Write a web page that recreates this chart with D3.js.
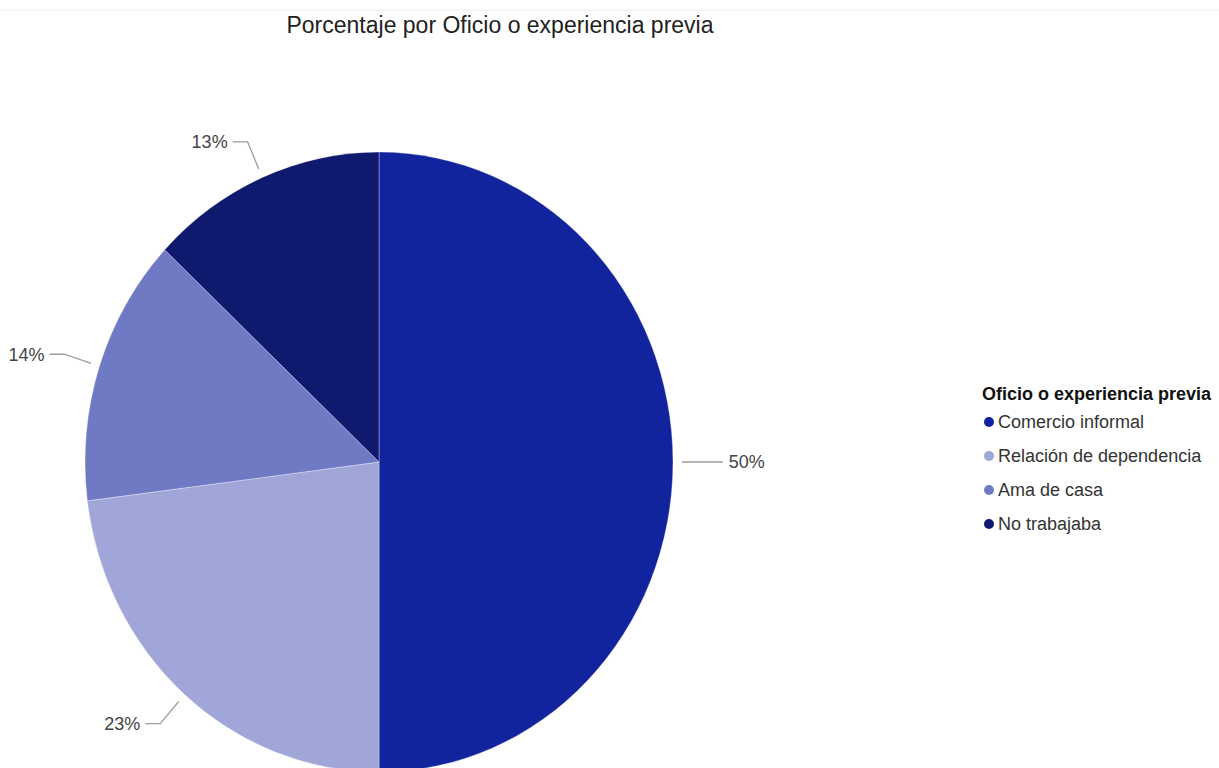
<!DOCTYPE html>
<html><head><meta charset="utf-8">
<script src="https://cdn.jsdelivr.net/npm/d3@7"></script>
<style>body{margin:0;background:#fff;} text{font-family:"Liberation Sans",Arial,sans-serif;}</style>
</head><body><svg id="c" width="1219" height="768"></svg>
<script>
const categories = ["Comercio informal","Relación de dependencia","Ama de casa","No trabajaba"];
const values = [50, 23, 14, 13];
const colors = ["#12239e","#a0a6d8","#7079c4","#0f1a6e"];
const chartTitle = "Porcentaje por Oficio o experiencia previa";
const legendTitle = "Oficio o experiencia previa";

const svg = d3.select("#c");
svg.append("line").attr("x1",0).attr("x2",1219).attr("y1",10).attr("y2",10).attr("stroke","#eeeeee").attr("stroke-width",1);
svg.append("text").attr("x",500).attr("y",33).attr("text-anchor","middle").attr("font-size",23).attr("fill","#222").text(chartTitle);

const cx=379, cy=462, rx=294, ry=310;
const pie = d3.pie().sort(null).value(d=>d);
const arcs = pie(values);
const arc = d3.arc().innerRadius(0).outerRadius(rx);
const g = svg.append("g").attr("transform",`translate(${cx},${cy}) scale(1,${ry/rx})`);
g.selectAll("path").data(arcs).join("path").attr("d",arc).attr("fill",(d,i)=>colors[i])
  .attr("stroke","#ffffff").attr("stroke-opacity",0.35).attr("stroke-width",1).attr("vector-effect","non-scaling-stroke");

const total = d3.sum(values);
const pt = (a,k)=>[cx+Math.sin(a)*rx*k, cy-Math.cos(a)*ry*k];
arcs.forEach((d,i)=>{
  const a=(d.startAngle+d.endAngle)/2;
  const A=pt(a,1.03), B=pt(a,1.125);
  const right = Math.sin(a)>0;
  const C=[B[0]+(right?13:-15), B[1]];
  svg.append("path").attr("d",`M${A[0]},${A[1]}L${B[0]},${B[1]}L${C[0]},${C[1]}`)
    .attr("fill","none").attr("stroke","#9e9e9e").attr("stroke-width",1.3);
  svg.append("text").attr("x",C[0]+(right?6:-5)).attr("y",C[1]).attr("dy","0.35em")
    .attr("text-anchor",right?"start":"end").attr("font-size",18).attr("fill","#444")
    .text(Math.round(d.data/total*100)+"%");
});

const lg = svg.append("g").attr("transform","translate(982,0)");
lg.append("text").attr("x",0).attr("y",400).attr("font-size",18).attr("font-weight","bold").attr("fill","#111").text(legendTitle);
categories.forEach((c,i)=>{
  const y=422+i*34;
  lg.append("circle").attr("cx",7).attr("cy",y).attr("r",5).attr("fill",colors[i]);
  lg.append("text").attr("x",16).attr("y",y).attr("dy","0.35em").attr("font-size",18).attr("fill","#333").text(c);
});
</script></body></html>
